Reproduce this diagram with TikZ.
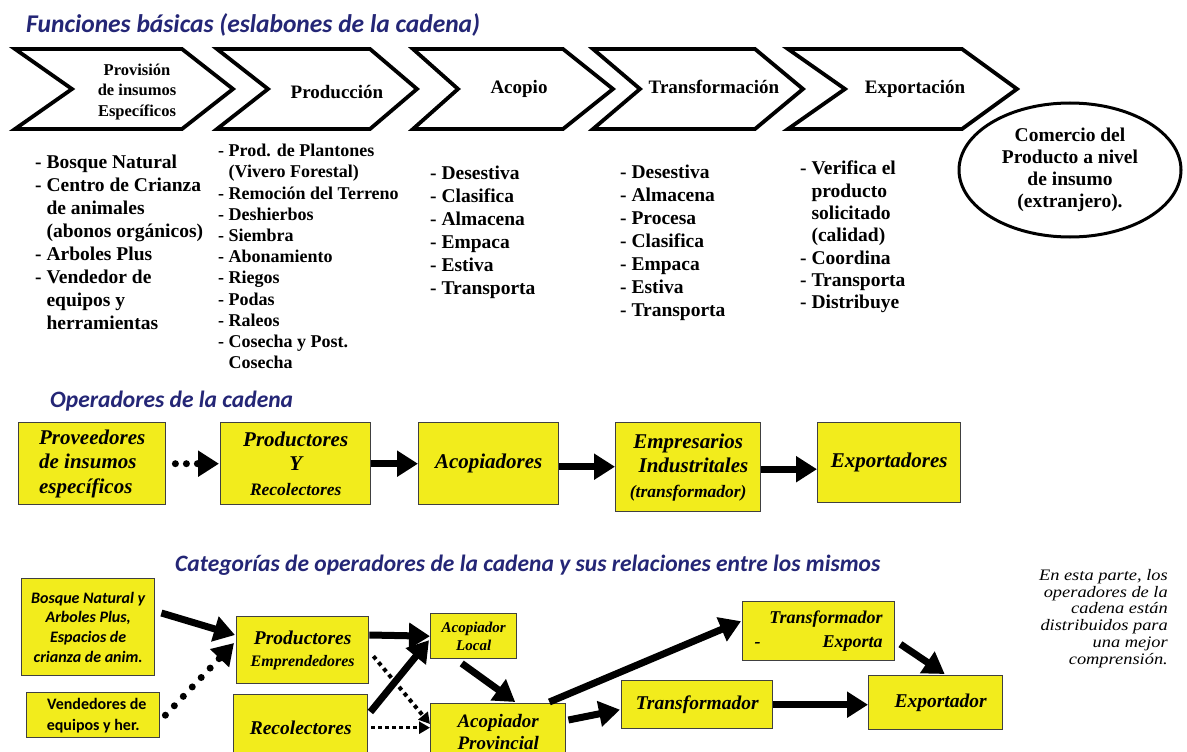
\documentclass[tikz,border=0pt]{standalone}
\usepackage{fontspec}
\setmainfont{Liberation Serif}
\newfontfamily\carl{Carlito}
\newfontfamily\notefont[FakeStretch=1.15]{Liberation Serif}
\usetikzlibrary{arrows.meta,shapes.geometric}
\definecolor{ybox}{RGB}{242,236,28}
\definecolor{hblue}{RGB}{36,38,118}
\begin{document}
\begin{tikzpicture}[x=1pt,y=-1pt,
  head/.style={font=\carl\bfseries\itshape\fontsize{23.5}{27}\selectfont, text=hblue, anchor=base west, inner sep=0},
  chev/.style={draw, line width=3.8pt, fill=white, line join=miter, miter limit=10},
  ctext/.style={font=\bfseries\fontsize{19}{21}\selectfont, align=center, inner sep=0, anchor=base},
  col/.style={font=\bfseries\fontsize{19.5}{23}\selectfont, align=left, anchor=north west, inner sep=0},
  ybx/.style={draw=black!75, line width=1.4pt, fill=ybox, inner sep=0, anchor=north west, align=center},
  bi/.style={font=\bfseries\itshape\fontsize{21}{24.5}\selectfont},
  arr/.style={line width=7pt, -{Triangle[length=21pt,width=25pt]}},
  darr/.style={line width=7pt, line cap=round, dash pattern=on 0pt off 13pt, -{Triangle[length=21pt,width=25pt]}},
  tarr/.style={line width=3.5pt, dash pattern=on 3.5pt off 3.5pt, -{Triangle[length=11pt,width=12pt]}}
]
\useasboundingbox (0,0) rectangle (1187,752);
\fill[white] (0,0) rectangle (1187,752);

% ---------- headings
\node[head, font=\carl\bfseries\itshape\fontsize{25.5}{29}\selectfont] (h1) at (26,33) {Funciones básicas (eslabones de la cadena)};
\node[head] (h2) at (50,407) {Operadores de la cadena};
\node[head] (h3) at (175,571) {Categorías de operadores de la cadena y sus relaciones entre los mismos};

% ---------- chevrons
\foreach \L/\N/\R/\T in {15/72/182/233, 217/268/370/417, 413/458/563/613, 593/640/755/803, 788/845/962/1017}
  \draw[chev] (\L,49) -- (\R,49) -- (\T,89) -- (\R,129) -- (\L,129) -- (\N,89) -- cycle;

\node[ctext, font=\bfseries\fontsize{16.5}{20.5}\selectfont, anchor=center] (ct1) at (137,92) {Provisión\\de insumos\\Específicos};
\node[ctext] (ct2) at (337,99) {Producción};
\node[ctext] (ct3) at (519,93) {Acopio};
\node[ctext] (ct4) at (714,93) {Transformación};
\node[ctext] (ct5) at (915,93) {Exportación};

% ---------- function lists
\node[col] (col1) at (35,155) {- Bosque Natural\\- Centro de Crianza\\\phantom{- }de animales\\\phantom{- }(abonos orgánicos)\\- Arboles Plus\\- Vendedor de\\\phantom{- }equipos y\\\phantom{- }herramientas};
\node[col, font=\bfseries\fontsize{18}{21.2}\selectfont] (col2) at (218,144) {- Prod. de Plantones\\\phantom{- }(Vivero Forestal)\\- Remoción del Terreno\\- Deshierbos\\- Siembra\\- Abonamiento\\- Riegos\\- Podas\\- Raleos\\- Cosecha y Post.\\\phantom{- }Cosecha};
\node[col] (col3) at (430,166) {- Desestiva\\- Clasifica\\- Almacena\\- Empaca\\- Estiva\\- Transporta};
\node[col] (col4) at (620,165) {- Desestiva\\- Almacena\\- Procesa\\- Clasifica\\- Empaca\\- Estiva\\- Transporta};
\node[col, font=\bfseries\fontsize{19.5}{22.3}\selectfont] (col5) at (800,161) {- Verifica el\\\phantom{- }producto\\\phantom{- }solicitado\\\phantom{- }(calidad)\\- Coordina\\- Transporta\\- Distribuye};

\node[ellipse, draw, line width=3pt, minimum width=222pt, minimum height=134pt, inner sep=0, align=center,
      font=\bfseries\fontsize{19.5}{22}\selectfont] (com) at (1070,170) {Comercio del\\Producto a nivel\\de insumo\\(extranjero).};

% ---------- operadores de la cadena
\node[ybx, minimum width=147pt, minimum height=82pt, align=left, bi] (o1) at (18,422) {Proveedores\\de insumos\\específicos};
\node[ybx, minimum width=150pt, minimum height=82pt, bi] (o2) at (220,422) {Productores\\Y\\{\fontsize{17.5}{20}\selectfont Recolectores}};
\node[ybx, minimum width=140pt, minimum height=82pt, bi] (o3) at (418,422) {Acopiadores};
\node[ybx, minimum width=145pt, minimum height=89pt, bi] (o4) at (615,422) {Empresarios\\\ \ Industritales\\{\fontsize{17.5}{20}\selectfont (transformador)}};
\node[ybx, minimum width=143pt, minimum height=80pt, bi] (o5) at (817,422) {Exportadores};

\draw[darr, dash pattern=on 0pt off 11pt] ([xshift=9pt]o1.east) -- ([xshift=-1pt]o1.east -| o2.west);
\draw[arr] (o2.east) -- (o2.east -| o3.west);
\draw[arr] ([shift={(0,3)}]o3.east) -- ([shift={(0,3)}]o3.east -| o4.west);
\draw[arr] ([shift={(0,2)}]o4.east) -- ([shift={(0,2)}]o4.east -| o5.west);

% ---------- categorias
\node[ybx, minimum width=133pt, minimum height=97pt, font=\carl\bfseries\itshape\fontsize{16}{19.7}\selectfont] (b1) at (21,578) {Bosque Natural y\\Arboles Plus,\\Espacios de\\crianza de anim.};
\node[ybx, minimum width=133pt, minimum height=45pt, font=\carl\bfseries\fontsize{16}{21}\selectfont] (b2) at (26,692) {\ \ Vendedores de\\equipos y her.};
\node[ybx, minimum width=132pt, minimum height=67pt, font=\bfseries\itshape\fontsize{19.5}{22}\selectfont] (b3) at (236,616) {Productores\\{\fontsize{16}{20}\selectfont Emprendedores}};
\node[ybx, minimum width=134pt, minimum height=66pt, font=\bfseries\itshape\fontsize{19.5}{22}\selectfont] (b4) at (233,694) {Recolectores};
\node[ybx, minimum width=86pt, minimum height=45pt, font=\bfseries\itshape\fontsize{15}{18}\selectfont] (b5) at (430,613) {Acopiador\\Local};
\node[ybx, minimum width=135pt, minimum height=57pt, font=\bfseries\itshape\fontsize{19}{21.5}\selectfont] (b6) at (430,703) {Acopiador\\Provincial};
\node[ybx, minimum width=152pt, minimum height=59pt, text width=128pt, align=flush right, font=\bfseries\itshape\fontsize{18}{24}\selectfont] (b7) at (742,601) {Transformador\\-\hspace{0pt plus 1fill}Exporta};
\node[ybx, minimum width=151pt, minimum height=48pt, font=\bfseries\itshape\fontsize{19.5}{22}\selectfont] (b8) at (621,680) {Transformador};
\node[ybx, minimum width=134pt, minimum height=54pt, font=\bfseries\itshape\fontsize{19.5}{22}\selectfont] (b9) at (868,675) {\ \ Exportador};

\draw[arr] ([shift={(6,35)}]b1.north east) -- ([shift={(-1,19)}]b3.north west);
\draw[darr] ([xshift=5pt]b2.east) -- ([shift={(-2,27)}]b3.north west);
\draw[arr] ([shift={(0,19)}]b3.north east) -- (b5.west);
\draw[arr] ([shift={(2,18)}]b4.north east) -- ([shift={(-1,4)}]b5.west);
\draw[tarr, line width=4pt, dash pattern=on 4pt off 4pt] ([shift={(4,6)}]b3.east) -- ([shift={(0,21)}]b6.north west);
\draw[tarr] ([xshift=3pt]b4.east) -- (b4.east -| b6.west);
\draw[arr] ([shift={(-12,4)}]b5.south) -- ([shift={(17,-1)}]b6.north);
\draw[arr] ([shift={(-17,-1)}]b6.north east) -- ([shift={(-1,-10)}]b7.west);
\draw[arr] ([shift={(2,17)}]b6.north east) -- ([shift={(-1,5)}]b8.west);
\draw[arr] (b8.east) -- (b8.east -| b9.west);
\draw[arr] ([shift={(5,13)}]b7.east) -- ([shift={(9,-1)}]b9.north);

% ---------- note
\node[anchor=north east, align=right, inner sep=0, font=\notefont\itshape\fontsize{16}{16.8}\selectfont] (note) at (1168,569)
  {En esta parte, los\\operadores de la\\cadena están\\distribuidos para\\una mejor\\comprensión.};
\end{tikzpicture}
\end{document}
